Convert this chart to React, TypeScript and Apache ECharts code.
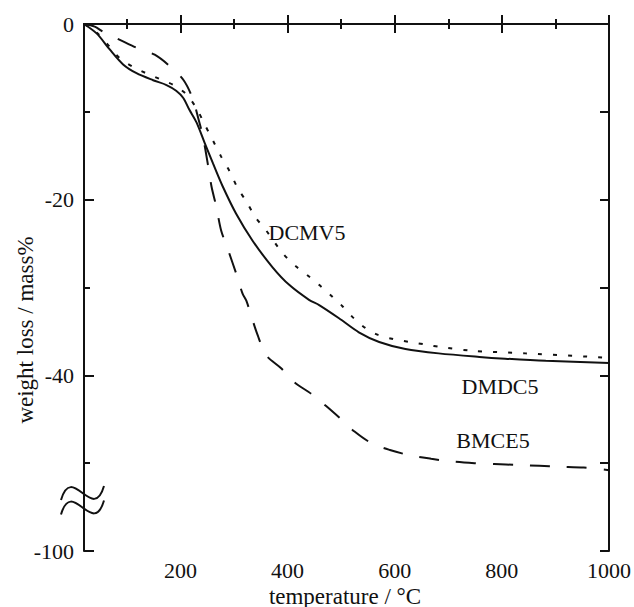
import React, { useEffect, useRef } from 'react';
import * as echarts from 'echarts';

// temperature (°C)
const dmdc5T = [20, 44, 68, 93, 118, 149, 174, 192, 205, 217, 230, 245, 261, 279, 304, 335, 372, 403, 440, 459, 496, 533, 571, 620, 682, 758, 806, 882, 1000];
// weight loss (mass%)
const dmdc5W = [0, -1.1, -2.9, -4.6, -5.6, -6.4, -6.95, -7.6, -8.4, -9.8, -11.2, -13.5, -15.9, -18.5, -21.6, -24.7, -27.7, -29.7, -31.4, -32.0, -33.5, -35.1, -36.2, -37.0, -37.5, -37.9, -38.1, -38.35, -38.6];

const dcmv5T = [20, 44, 68, 87, 112, 136, 163, 189, 211, 230, 245, 261, 276, 292, 307, 323, 340, 360, 391, 416, 437, 459, 481, 502, 522, 545, 569, 599, 628, 658, 688, 744, 844, 1000];
const dcmv5W = [0, -1.0, -2.6, -3.9, -4.9, -5.6, -6.3, -7.0, -8.0, -9.6, -11.4, -13.3, -15.1, -16.8, -18.7, -20.2, -22.0, -23.5, -26.1, -27.6, -28.6, -29.7, -30.9, -32.1, -33.4, -34.6, -35.4, -35.9, -36.2, -36.5, -36.8, -37.2, -37.5, -38.0];

const bmce5T = [20, 40, 56, 87, 118, 152, 180, 206, 223, 234, 242, 251, 258, 267, 276, 290, 304, 316, 323, 332, 344, 360, 388, 413, 444, 472, 500, 525, 556, 591, 628, 668, 705, 749, 786, 829, 870, 907, 953, 1000];
const bmce5W = [0, -0.3, -0.9, -1.8, -2.7, -3.5, -4.8, -6.4, -8.5, -10.9, -12.8, -15.9, -18.5, -20.8, -23.5, -25.9, -28.4, -30.7, -31.5, -33.2, -35.4, -37.7, -39.2, -40.8, -42.1, -43.5, -45.0, -46.4, -47.7, -48.5, -49.1, -49.5, -49.8, -50.0, -50.1, -50.2, -50.3, -50.4, -50.5, -50.8];

const xMajorTicks = [200, 400, 600, 800, 1000];
const xMinorTicks = [100, 300, 500, 700, 900];
const yTickValues = [0, -20, -40, -60];
const yTickLabels = ['0', '-20', '-40', '-100'];

const seriesNames = ['DMDC5', 'DCMV5', 'BMCE5'];
const xTitle = 'temperature / °C';
const yTitle = 'weight loss / mass%';

const FONT = '"Liberation Serif", "DejaVu Serif", serif';

const zip = (a: number[], b: number[]) => a.map((v, i) => [v, b[i]]);

export default function App() {
  const ref = useRef<HTMLDivElement>(null);
  useEffect(() => {
    if (!ref.current) return;
    const chart = echarts.init(ref.current, undefined, { renderer: 'svg' });
    const black = '#111';
    const axisLine = { show: true, lineStyle: { color: black, width: 2 } };
    const tickStyle = { color: black, width: 2 };
    const xBase = { type: 'value' as const, min: 20, max: 1000, gridIndex: 0, splitLine: { show: false } };
    const yBase = { type: 'value' as const, min: -60, max: 0, interval: 20, gridIndex: 0, splitLine: { show: false }, minorSplitLine: { show: false } };
    const lineSeries = (name: string, data: number[][], type: any) => ({
      name,
      type: 'line',
      data,
      xAxisIndex: 0,
      yAxisIndex: 0,
      showSymbol: false,
      symbol: 'none',
      smooth: 0.3,
      lineStyle: { color: black, width: 2, type },
    });
    const wave = (dy: number) => ({
      type: 'bezierCurve',
      shape: { x1: 61, y1: 500 + dy, cpx1: 72, cpy1: 462 + dy, cpx2: 93, cpy2: 524 + dy, x2: 104, y2: 486 + dy },
      style: { stroke: black, lineWidth: 2, fill: 'none' },
      z: 100,
    });
    const txt = (text: string, x: number, y: number, size: number, rotation = 0) => ({
      type: 'text',
      x,
      y,
      rotation,
      style: { text, fill: black, font: `${size}px ${FONT}`, align: 'center', verticalAlign: 'middle' },
      z: 100,
    });
    chart.setOption({
      animation: false,
      backgroundColor: '#fff',
      grid: { left: 84, top: 24, right: 23, bottom: 56, containLabel: false },
      xAxis: [
        {
          ...xBase,
          position: 'bottom',
          axisLine,
          axisTick: { show: true, inside: true, length: 9, customValues: xMajorTicks, lineStyle: tickStyle },
          axisLabel: {
            show: true,
            customValues: xMajorTicks,
            fontFamily: FONT,
            fontSize: 22,
            color: black,
            margin: 8,
            formatter: (v: number) => String(v),
          },
        },
        {
          ...xBase,
          position: 'bottom',
          axisLine: { show: false },
          axisTick: { show: true, inside: true, length: 5, customValues: xMinorTicks, lineStyle: tickStyle },
          axisLabel: { show: false },
        },
        {
          ...xBase,
          position: 'top',
          axisLine,
          axisTick: { show: true, inside: true, length: 9, customValues: xMajorTicks, lineStyle: tickStyle },
          axisLabel: { show: false },
        },
        {
          ...xBase,
          position: 'top',
          axisLine: { show: false },
          axisTick: { show: true, inside: true, length: 5, customValues: xMinorTicks, lineStyle: tickStyle },
          axisLabel: { show: false },
        },
      ],
      yAxis: [
        {
          ...yBase,
          position: 'left',
          axisLine,
          axisTick: { show: true, inside: true, length: 10, lineStyle: tickStyle },
          minorTick: { show: true, splitNumber: 2, length: 6, lineStyle: tickStyle },
          axisLabel: {
            show: true,
            fontFamily: FONT,
            fontSize: 22,
            color: black,
            margin: 10,
            formatter: (v: number) => {
              const i = yTickValues.indexOf(v);
              return i >= 0 ? yTickLabels[i] : '';
            },
          },
        },
        {
          ...yBase,
          position: 'right',
          axisLine,
          axisTick: { show: true, inside: true, length: 9, lineStyle: tickStyle },
          minorTick: { show: true, splitNumber: 2, length: 9, lineStyle: tickStyle },
          axisLabel: { show: false },
        },
      ],
      series: [
        lineSeries(seriesNames[0], zip(dmdc5T, dmdc5W), 'solid'),
        lineSeries(seriesNames[1], zip(dcmv5T, dcmv5W), [4, 11]),
        lineSeries(seriesNames[2], zip(bmce5T, bmce5W), [20, 17]),
      ],
      graphic: [
        wave(0),
        wave(14.5),
        txt(seriesNames[1], 307, 232, 22),
        txt(seriesNames[0], 500, 386, 22),
        txt(seriesNames[2], 493, 440, 22),
        txt(xTitle, 345, 596, 23),
        txt(yTitle, 25, 330, 23, Math.PI / 2),
      ],
    });
    return () => chart.dispose();
  }, []);
  return <div ref={ref} style={{ position: 'fixed', left: 0, top: 0, width: 634, height: 607 }} />;
}
